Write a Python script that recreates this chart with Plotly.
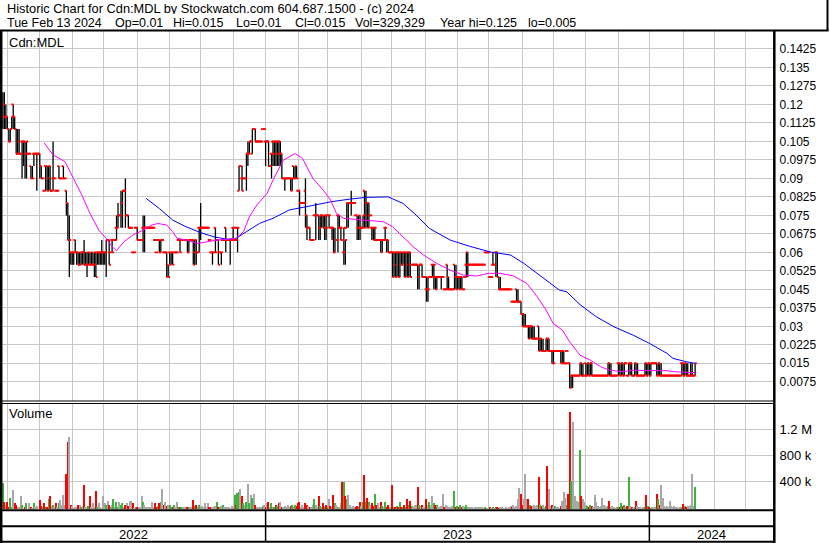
import plotly.graph_objects as go
import pandas as pd

# ---------------- data ----------------
start_date = "2022-04-27"      # first trading day shown
axis_end_date = "2024-04-30"   # right end of the time axis (blank space)

opens = [
 .115,.12,.115,.115,.11,.105,.11,.12,.115,.11,
 .10,.105,.10,.105,.105,.105,.10,.10,.10,.095,
 .09,.10,.10,.10,.10,.10,.095,.09,.085,.095,
 .095,.09,.095,.085,.09,.09,.085,.085,.095,.09,
 .09,.095,.09,.085,.08,.065,.06,.06,.06,.065,
 .06,.06,.055,.06,.06,.06,.055,.055,.06,.055,
 .055,.06,.055,.06,.06,.06,.06,.06,.06,.06,
 .06,.065,.065,.06,.065,.065,.065,.07,.07,.075,
 .075,.08,.085,.085,.075,.075,.07,.07,.06,.06,
 .07,.07,.065,.065,.065,.07,.07,.07,.07,.07,
 .07,.07,.07,.065,.06,.065,.065,.06,.065,.06,
 .06,.06,.055,.06,.06,.06,.06,.06,.06,.065,
 .065,.065,.065,.065,.065,.065,.06,.065,.065,.065,
 .06,.065,.06,.07,.07,.07,.07,.07,.07,.07,
 .065,.06,.06,.06,.07,.065,.065,.06,.06,.065,
 .065,.07,.065,.065,.065,.065,.07,.07,.065,.07,
 .085,.095,.09,.09,.09,.09,.10,.10,.105,.10,
 .11,.11,.105,.105,.105,.105,.11,.11,.105,.105,
 .105,.095,.10,.105,.105,.105,.105,.105,.105,.10,
 .09,.09,.09,.09,.09,.09,.09,.095,.09,.09,
 .085,.085,.08,.08,.08,.085,.075,.07,.07,.065,
 .065,.075,.075,.075,.075,.07,.075,.075,.07,.075,
 .075,.075,.07,.07,.07,.06,.065,.075,.075,.07,
 .065,.06,.06,.07,.08,.08,.08,.08,.08,.075,
 .075,.07,.07,.07,.07,.085,.075,.08,.08,.075,
 .07,.07,.07,.065,.065,.065,.065,.065,.065,.07,
 .065,.065,.06,.06,.06,.06,.06,.06,.06,.06,
 .06,.055,.06,.06,.06,.06,.06,.055,.055,.055,
 .055,.055,.05,.055,.055,.05,.05,.045,.045,.05,
 .05,.055,.055,.05,.05,.05,.05,.05,.05,.045,
 .045,.055,.05,.045,.045,.045,.055,.05,.05,.05,
 .05,.05,.045,.05,.055,.06,.055,.055,.055,.055,
 .055,.055,.055,.055,.055,.055,.055,.06,.06,.06,
 .05,.05,.055,.055,.06,.06,.05,.045,.045,.045,
 .045,.045,.045,.045,.045,.04,.04,.04,.045,.04,
 .04,.04,.035,.035,.03,.03,.03,.03,.03,.03,
 .025,.025,.025,.03,.025,.025,.02,.02,.02,.025,
 .025,.02,.02,.02,.02,.02,.02,.02,.02,.02,
 .02,.015,.02,.015,.015,.01,.01,.01,.01,.01,
 .01,.01,.015,.01,.01,.015,.01,.015,.01,.015,
 .01,.01,.01,.01,.01,.01,.01,.01,.01,.01,
 .01,.015,.01,.01,.01,.01,.01,.015,.015,.01,
 .015,.01,.015,.01,.01,.015,.015,.01,.01,.015,
 .01,.01,.01,.01,.01,.01,.015,.01,.015,.01,
 .015,.015,.015,.015,.01,.015,.01,.01,.01,.01,
 .01,.01,.01,.01,.01,.01,.01,.01,.01,.01,
 .015,.015,.01,.015,.01,.01,.01,.01,.01,.01]

highs = [
 .125,.125,.12,.115,.11,.11,.115,.12,.115,.11,
 .11,.11,.10,.105,.105,.105,.105,.10,.10,.095,
 .095,.10,.10,.10,.10,.10,.095,.09,.085,.095,
 .095,.095,.095,.085,.105,.09,.085,.085,.095,.09,
 .09,.095,.09,.085,.08,.075,.06,.06,.06,.065,
 .06,.06,.06,.06,.06,.065,.06,.06,.06,.06,
 .06,.06,.06,.06,.06,.06,.06,.065,.06,.06,
 .065,.065,.065,.06,.065,.065,.065,.075,.08,.075,
 .085,.085,.085,.09,.075,.075,.07,.07,.06,.06,
 .07,.07,.065,.065,.065,.075,.075,.07,.07,.07,
 .07,.07,.07,.065,.06,.065,.065,.065,.065,.06,
 .06,.06,.055,.06,.06,.06,.06,.06,.06,.065,
 .065,.065,.065,.065,.065,.065,.065,.065,.065,.065,
 .065,.065,.06,.07,.08,.07,.07,.07,.07,.07,
 .065,.06,.06,.06,.07,.065,.065,.06,.06,.065,
 .065,.07,.065,.065,.065,.065,.07,.07,.065,.07,
 .095,.095,.095,.09,.09,.10,.105,.105,.105,.11,
 .11,.11,.105,.105,.105,.105,.11,.11,.105,.105,
 .105,.095,.10,.105,.105,.105,.105,.105,.105,.10,
 .09,.09,.09,.09,.09,.09,.09,.095,.095,.095,
 .085,.085,.08,.08,.08,.09,.075,.07,.07,.065,
 .065,.075,.08,.075,.075,.075,.075,.075,.075,.075,
 .075,.075,.07,.07,.07,.07,.065,.075,.075,.07,
 .065,.07,.065,.08,.08,.08,.085,.08,.08,.075,
 .075,.075,.075,.07,.075,.085,.085,.08,.08,.075,
 .07,.07,.07,.065,.065,.065,.065,.065,.065,.07,
 .065,.065,.06,.06,.06,.06,.06,.06,.06,.06,
 .06,.06,.06,.06,.06,.06,.06,.055,.055,.055,
 .055,.055,.055,.055,.055,.05,.05,.05,.05,.05,
 .05,.055,.055,.05,.05,.05,.05,.05,.05,.045,
 .045,.055,.05,.045,.045,.045,.055,.055,.05,.05,
 .05,.05,.045,.05,.06,.06,.055,.055,.055,.055,
 .055,.055,.055,.055,.055,.055,.055,.06,.06,.06,
 .05,.05,.06,.055,.06,.06,.05,.05,.045,.045,
 .045,.045,.045,.045,.045,.04,.04,.04,.045,.045,
 .04,.04,.035,.035,.035,.03,.03,.03,.03,.03,
 .03,.025,.025,.03,.025,.025,.025,.02,.025,.025,
 .025,.02,.02,.02,.02,.02,.02,.02,.02,.02,
 .02,.015,.02,.015,.015,.01,.01,.01,.01,.01,
 .01,.015,.015,.015,.01,.015,.015,.015,.015,.015,
 .01,.01,.01,.01,.01,.01,.01,.01,.01,.01,
 .015,.015,.015,.01,.01,.01,.01,.015,.015,.015,
 .015,.015,.015,.01,.015,.015,.015,.01,.015,.015,
 .015,.01,.01,.01,.01,.015,.015,.015,.015,.015,
 .015,.015,.015,.015,.015,.015,.015,.01,.01,.01,
 .01,.01,.01,.01,.01,.01,.01,.01,.01,.01,
 .015,.015,.015,.015,.015,.01,.015,.015,.01,.015]

lows = [
 .11,.11,.11,.11,.105,.105,.11,.11,.11,.10,
 .10,.10,.10,.09,.095,.09,.09,.10,.10,.09,
 .09,.095,.10,.085,.10,.09,.09,.09,.085,.085,
 .085,.085,.085,.085,.085,.09,.085,.085,.09,.09,
 .09,.09,.09,.075,.065,.05,.055,.055,.055,.06,
 .055,.055,.055,.055,.055,.055,.055,.05,.055,.055,
 .055,.055,.05,.05,.055,.055,.055,.055,.055,.055,
 .05,.065,.055,.06,.06,.065,.065,.065,.07,.075,
 .07,.07,.085,.07,.075,.07,.07,.07,.06,.06,
 .07,.065,.065,.065,.065,.06,.06,.07,.07,.07,
 .07,.07,.07,.065,.06,.065,.06,.06,.065,.06,
 .06,.05,.05,.055,.055,.055,.06,.06,.06,.065,
 .06,.065,.065,.065,.065,.06,.06,.065,.065,.055,
 .055,.055,.06,.06,.065,.07,.07,.07,.07,.07,
 .065,.06,.055,.06,.06,.065,.055,.06,.055,.065,
 .065,.06,.065,.065,.055,.065,.065,.07,.065,.06,
 .085,.095,.085,.09,.09,.085,.095,.10,.105,.10,
 .11,.105,.105,.105,.105,.105,.11,.11,.095,.105,
 .095,.095,.09,.095,.095,.095,.095,.095,.095,.09,
 .09,.085,.09,.09,.09,.085,.085,.09,.09,.09,
 .085,.075,.08,.08,.08,.07,.065,.07,.065,.065,
 .065,.075,.065,.075,.065,.065,.07,.07,.065,.065,
 .075,.07,.07,.065,.06,.06,.065,.06,.07,.065,
 .065,.055,.055,.07,.07,.08,.075,.08,.08,.075,
 .065,.065,.065,.07,.07,.07,.07,.07,.07,.075,
 .065,.065,.065,.065,.065,.065,.06,.06,.065,.065,
 .06,.06,.06,.06,.05,.05,.05,.05,.05,.05,
 .055,.055,.05,.05,.05,.05,.05,.055,.055,.055,
 .055,.045,.045,.055,.05,.05,.05,.04,.04,.05,
 .05,.05,.045,.045,.045,.05,.05,.045,.05,.045,
 .045,.045,.045,.045,.045,.045,.045,.045,.045,.045,
 .045,.045,.045,.05,.05,.05,.055,.055,.055,.055,
 .055,.055,.055,.055,.055,.055,.055,.06,.06,.06,
 .05,.05,.055,.055,.05,.05,.045,.045,.045,.045,
 .045,.045,.045,.045,.045,.04,.04,.04,.04,.04,
 .04,.035,.03,.03,.03,.03,.025,.025,.025,.025,
 .025,.025,.025,.02,.02,.02,.02,.02,.02,.02,
 .02,.02,.015,.015,.02,.02,.02,.02,.015,.015,
 .015,.015,.02,.015,.005,.005,.005,.01,.01,.01,
 .01,.01,.01,.01,.01,.01,.01,.01,.01,.01,
 .01,.01,.01,.01,.01,.01,.01,.01,.01,.01,
 .01,.01,.01,.01,.01,.01,.01,.01,.01,.01,
 .01,.01,.015,.01,.01,.01,.01,.01,.01,.01,
 .01,.01,.01,.01,.01,.01,.01,.01,.01,.01,
 .015,.015,.015,.01,.01,.01,.01,.01,.01,.01,
 .01,.01,.01,.01,.01,.01,.01,.01,.01,.01,
 .01,.01,.01,.01,.01,.01,.01,.01,.01,.01]

closes = [
 .12,.115,.115,.11,.105,.11,.115,.115,.11,.10,
 .10,.10,.10,.105,.105,.10,.105,.10,.10,.09,
 .09,.10,.10,.10,.10,.095,.09,.09,.085,.095,
 .085,.095,.085,.085,.09,.09,.085,.085,.09,.09,
 .09,.09,.09,.08,.065,.065,.06,.06,.06,.06,
 .06,.055,.055,.06,.06,.055,.055,.055,.06,.055,
 .055,.055,.055,.05,.06,.06,.06,.06,.06,.06,
 .065,.065,.055,.06,.06,.065,.065,.07,.075,.075,
 .08,.085,.085,.075,.075,.07,.07,.07,.06,.06,
 .07,.065,.065,.065,.065,.07,.07,.07,.07,.07,
 .07,.07,.07,.065,.06,.065,.06,.065,.065,.06,
 .06,.05,.05,.055,.06,.055,.06,.06,.06,.065,
 .06,.065,.065,.065,.065,.06,.065,.065,.065,.055,
 .065,.06,.06,.07,.07,.07,.07,.07,.07,.07,
 .065,.06,.06,.06,.06,.065,.055,.06,.06,.065,
 .065,.065,.065,.065,.065,.065,.065,.07,.065,.07,
 .095,.095,.085,.09,.09,.10,.10,.105,.105,.11,
 .11,.105,.105,.105,.105,.105,.11,.11,.105,.105,
 .095,.095,.10,.10,.105,.10,.105,.10,.10,.09,
 .09,.09,.09,.09,.09,.085,.09,.09,.095,.09,
 .085,.08,.08,.08,.08,.075,.07,.07,.065,.065,
 .065,.075,.075,.075,.07,.075,.075,.07,.075,.07,
 .075,.075,.07,.07,.06,.065,.065,.07,.07,.07,
 .065,.07,.065,.08,.08,.08,.08,.08,.08,.075,
 .07,.075,.07,.07,.075,.07,.08,.07,.075,.075,
 .07,.065,.07,.065,.065,.065,.06,.065,.065,.07,
 .065,.06,.06,.06,.05,.055,.05,.06,.05,.06,
 .055,.06,.05,.055,.05,.06,.05,.055,.055,.055,
 .055,.05,.055,.055,.05,.05,.05,.045,.045,.05,
 .05,.05,.055,.045,.05,.05,.05,.05,.05,.045,
 .045,.045,.045,.045,.045,.045,.05,.045,.05,.045,
 .05,.045,.045,.05,.055,.055,.055,.055,.055,.055,
 .055,.055,.055,.055,.055,.055,.055,.06,.06,.06,
 .05,.05,.055,.055,.06,.05,.045,.045,.045,.045,
 .045,.045,.045,.045,.045,.04,.04,.04,.04,.04,
 .04,.035,.03,.03,.03,.03,.025,.03,.025,.025,
 .025,.025,.025,.02,.025,.02,.02,.02,.025,.02,
 .02,.02,.015,.015,.02,.02,.02,.02,.015,.015,
 .015,.015,.02,.015,.005,.01,.01,.01,.01,.01,
 .01,.015,.01,.01,.01,.01,.015,.01,.015,.01,
 .01,.01,.01,.01,.01,.01,.01,.01,.01,.01,
 .015,.01,.01,.01,.01,.01,.01,.015,.01,.015,
 .01,.015,.015,.01,.015,.015,.01,.01,.015,.01,
 .01,.01,.01,.01,.01,.015,.01,.015,.01,.015,
 .015,.015,.015,.01,.015,.01,.01,.01,.01,.01,
 .01,.01,.01,.01,.01,.01,.01,.01,.01,.01,
 .015,.01,.015,.01,.01,.01,.01,.01,.01,.015]

volume_k = [
 390,105,60,105,30,166,20,290,80,50,
 20,30,196,50,10,20,80,0,80,30,
 10,80,20,40,0,130,40,20,80,30,
 20,150,196,40,60,20,80,20,80,130,
 60,215,60,531,1008,1093,60,40,10,30,
 20,50,60,20,40,366,30,20,40,196,
 20,80,30,266,20,80,20,10,196,80,
 60,115,60,30,50,150,20,100,20,100,
 60,80,20,50,80,40,115,115,80,10,
 20,30,30,20,196,100,60,20,30,20,
 30,100,30,80,20,40,90,100,301,50,
 100,40,60,60,30,20,60,30,100,30,
 20,20,20,20,20,20,30,20,30,130,
 40,60,20,60,30,40,20,80,30,90,
 20,20,30,20,40,100,30,20,40,60,
 20,30,20,30,10,40,20,211,60,241,
 256,305,196,80,60,100,376,80,211,166,
 226,60,20,20,30,20,40,60,30,80,
 100,20,80,30,20,60,40,80,100,20,
 30,40,20,50,30,40,60,20,50,40,
 80,100,20,60,20,80,60,40,30,20,
 50,150,60,30,196,40,30,80,20,60,
 20,150,40,30,211,80,60,30,20,80,
 401,401,196,150,211,60,20,40,30,20,
 40,20,100,40,100,516,100,166,100,60,
 80,40,226,60,80,30,100,40,30,100,
 20,60,20,30,356,20,30,40,20,100,
 30,20,50,30,150,60,115,40,20,50,
 60,331,60,40,50,20,20,150,60,100,
 50,196,80,60,50,30,20,40,226,30,
 60,40,30,20,40,40,275,30,40,20,
 60,30,40,20,50,30,20,20,30,10,
 20,20,30,20,10,20,10,20,10,10,
 20,10,20,10,30,20,10,20,20,10,
 10,20,10,20,40,20,60,30,40,150,
 316,226,50,150,531,150,150,60,40,40,
 50,40,60,486,60,40,60,30,40,641,
 305,40,60,20,40,20,30,10,40,115,
 260,166,60,226,1470,416,1320,150,196,120,
 100,890,196,150,100,60,40,30,60,40,
 20,211,100,40,30,40,166,60,40,20,
 40,120,30,40,20,10,20,30,20,80,
 40,60,30,40,476,40,20,10,30,115,
 40,20,30,10,20,30,211,40,20,10,
 20,30,20,226,150,60,356,166,40,20,
 40,20,115,40,20,40,30,20,10,20,
 20,75,40,30,40,40,60,526,40,329]

# moving averages, read at sample trading days (day number from first bar)
ma_short_day = [28,34,42,48,53,59,65,70,74,77,82,88,95,101,105,111,115,118,124,132,
                140,145,152,158,163,167,172,179,183,190,198,203,210,217,222,226,231,240,249,258,
                264,271,278,285,294,303,312,321,329,337,346,355,362,368,373,379,384,391,398,405,
                411,420,427,438,450,454,463,469]
ma_short_val = [.1044,.0995,.0968,.090,.0839,.0758,.069,.0657,.0623,.0607,
                .0643,.067,.069,.0711,.0717,.0711,.0684,.0657,.065,.0636,
                .0643,.065,.0653,.0657,.0684,.0744,.0792,.0839,.0893,.0974,
                .1001,.0981,.090,.0853,.0812,.0758,.0738,.0734,.0731,.0724,
                .0704,.0663,.0623,.0589,.0555,.0528,.0508,.0504,.0515,.0515,
                .0504,.0474,.042,.0366,.031,.0285,.0237,.0183,.0163,.0136,
                .0122,.0116,.0122,.012,.012,.0116,.0113,.0112]
ma_long_day = [97,106,115,124,134,143,152,158,165,174,183,194,208,222,235,246,261,271,280,289,
               303,316,330,344,353,362,371,377,382,391,402,414,427,438,450,454,463,469]
ma_long_val = [.0819,.0778,.0731,.0704,.068,.0663,.0653,.0657,.0684,.0718,
               .0738,.0772,.0788,.0805,.0816,.0823,.0825,.0799,.0751,.0697,
               .065,.0625,.0602,.0589,.0555,.0515,.0477,.0447,.044,.0388,
               .0339,.0298,.0264,.0231,.019,.017,.0156,.015]

price_ticks = [0.0075,0.015,0.0225,0.03,0.0375,0.045,0.0525,0.06,0.0675,0.075,
               0.0825,0.09,0.0975,0.105,0.1125,0.12,0.1275,0.135,0.1425]
price_tick_text = ["0.0075","0.015","0.0225","0.03","0.0375","0.045","0.0525","0.06",
                   "0.0675","0.075","0.0825","0.09","0.0975","0.105","0.1125","0.12",
                   "0.1275","0.135","0.1425"]
vol_ticks = [400, 800, 1200]
vol_tick_text = ["400 k", "800 k", "1.2 M"]

title_line = "Historic Chart for Cdn:MDL by Stockwatch.com 604.687.1500 - (c) 2024"
info_items = ["Tue Feb 13 2024", "Op=0.01", "Hi=0.015", "Lo=0.01", "Cl=0.015",
              "Vol=329,329", "Year hi=0.125", "lo=0.005"]
symbol_label = "Cdn:MDL"
volume_label = "Volume"

# ---------------- build ----------------
n = len(closes)
assert len(opens) == n and len(highs) == n and len(lows) == n and len(volume_k) == n, \
    (len(opens), len(highs), len(lows), len(closes), len(volume_k))

cal = pd.bdate_range(start_date, axis_end_date)
days = list(range(n))
month_starts = [i for i in range(1, len(cal)) if cal[i].month != cal[i - 1].month]
year_starts = [i for i in range(1, len(cal)) if cal[i].year != cal[i - 1].year]

W, H = 830, 543
def PX(x): return x / W
def PY(y): return 1 - y / H

x_lo, x_hi = -0.6, 522.1
FONT = "Liberation Sans, Arial, sans-serif"
GRID = "#C8C8C8"

vol_colors = []
for i in days:
    if i == 0 or closes[i] > closes[i - 1]:
        vol_colors.append("#3CB43C")
    elif closes[i] < closes[i - 1]:
        vol_colors.append("#FF0000")
    else:
        vol_colors.append("#A8A8A8")

fig = go.Figure()

fig.add_trace(go.Ohlc(
    x=days, open=opens, high=highs, low=lows, close=closes,
    increasing=dict(line=dict(color="black", width=1.3)),
    decreasing=dict(line=dict(color="black", width=1.3)),
    tickwidth=0, hoverinfo="skip", xaxis="x", yaxis="y"))

fig.add_trace(go.Scatter(
    x=[d - 0.55 for d in days] + [d + 0.55 for d in days],
    y=opens + closes, mode="markers",
    marker=dict(symbol="square", size=1.9, color="#FF0000", line=dict(width=0)),
    hoverinfo="skip", xaxis="x", yaxis="y"))

fig.add_trace(go.Scatter(x=ma_long_day, y=ma_long_val, mode="lines",
                         line=dict(color="#0000FF", width=1), hoverinfo="skip",
                         xaxis="x", yaxis="y"))
fig.add_trace(go.Scatter(x=ma_short_day, y=ma_short_val, mode="lines",
                         line=dict(color="#FF00FF", width=1), hoverinfo="skip",
                         xaxis="x", yaxis="y"))

fig.add_trace(go.Bar(x=days, y=volume_k, width=0.8,
                     marker=dict(color=vol_colors, line=dict(width=0)),
                     hoverinfo="skip", xaxis="x2", yaxis="y2"))

xcommon = dict(domain=[PX(2), PX(773.5)], range=[x_lo, x_hi], tickvals=month_starts,
               showticklabels=False, ticks="", showgrid=True, gridcolor=GRID, gridwidth=1,
               zeroline=False, showline=False, fixedrange=True)

fig.update_layout(
    width=W, height=H, margin=dict(l=0, r=0, t=0, b=0),
    paper_bgcolor="white", plot_bgcolor="white", showlegend=False, hovermode=False,
    bargap=0,
    xaxis=dict(**xcommon, anchor="y", rangeslider=dict(visible=False)),
    xaxis2=dict(**xcommon, anchor="y2"),
    yaxis=dict(domain=[PY(401), PY(31)], range=[-0.0003, 0.1498], side="right",
               anchor="x", tickvals=price_ticks, ticktext=price_tick_text, ticks="",
               ticklabelstandoff=5, showgrid=True, gridcolor=GRID, gridwidth=1,
               zeroline=False, showline=False, fixedrange=True,
               tickfont=dict(family=FONT, size=12, color="black")),
    yaxis2=dict(domain=[PY(509.5), PY(403.5)], range=[-20, 1590], side="right",
                anchor="x2", tickvals=vol_ticks, ticktext=vol_tick_text, ticks="",
                ticklabelstandoff=5, showgrid=True, gridcolor=GRID, gridwidth=1,
                zeroline=False, showline=False, fixedrange=True,
                tickfont=dict(family=FONT, size=13, color="black")),
)

ann = []
ann.append(dict(text=title_line, x=PX(6), y=PY(8.2), xref="paper", yref="paper",
                xanchor="left", yanchor="middle", showarrow=False, borderpad=0, height=12,
                font=dict(family=FONT, size=12.8, color="black")))
info_x = [6, 114, 172, 235, 294, 354, 439, 527]
for txt, xx in zip(info_items, info_x):
    ann.append(dict(text=txt, x=PX(xx), y=PY(23), xref="paper", yref="paper",
                    xanchor="left", yanchor="middle", showarrow=False, borderpad=0,
                    height=12, font=dict(family=FONT, size=12.5, color="black")))
ann.append(dict(text=symbol_label, x=PX(8), y=PY(42), xref="paper", yref="paper",
                xanchor="left", yanchor="middle", showarrow=False, borderpad=0,
                font=dict(family=FONT, size=13, color="black")))
ann.append(dict(text=volume_label, x=PX(8), y=PY(413.5), xref="paper", yref="paper",
                xanchor="left", yanchor="middle", showarrow=False, borderpad=0,
                font=dict(family=FONT, size=13, color="black")))
bounds = [x_lo] + year_starts + [x_hi]
for k, lab in enumerate(["2022", "2023", "2024"]):
    ann.append(dict(text=lab, x=(bounds[k] + bounds[k + 1]) / 2, y=PY(534), xref="x2",
                    yref="paper", xanchor="center", yanchor="middle", showarrow=False,
                    borderpad=0, height=13, font=dict(family=FONT, size=13, color="black")))
fig.update_layout(annotations=ann)

shapes = []
def hline(y, x0, x1, w):
    shapes.append(dict(type="line", xref="paper", yref="paper", x0=PX(x0), x1=PX(x1),
                       y0=PY(y), y1=PY(y), line=dict(color="black", width=w)))
def vline(x, y0, y1, w):
    shapes.append(dict(type="line", xref="paper", yref="paper", x0=PX(x), x1=PX(x),
                       y0=PY(y0), y1=PY(y1), line=dict(color="black", width=w)))
hline(30.5, 0, 828.5, 2)
vline(827.5, 0, 31, 2)
vline(1.2, 30, 543, 2.5)
vline(774.3, 30, 543, 2.5)
hline(401, 0, 774, 1)
hline(403.5, 0, 774, 1)
hline(510.3, 0, 774, 2)
hline(526.3, 0, 774, 2)
hline(541.7, 0, 774, 2)
for ys in year_starts:
    shapes.append(dict(type="line", xref="x2", yref="paper", x0=ys, x1=ys,
                       y0=PY(510), y1=PY(542), line=dict(color="black", width=1.5)))
fig.update_layout(shapes=shapes)

fig.write_html("out.html", config={"displayModeBar": False},
               post_script="document.body.style.margin='0';document.body.style.overflow='hidden';")
